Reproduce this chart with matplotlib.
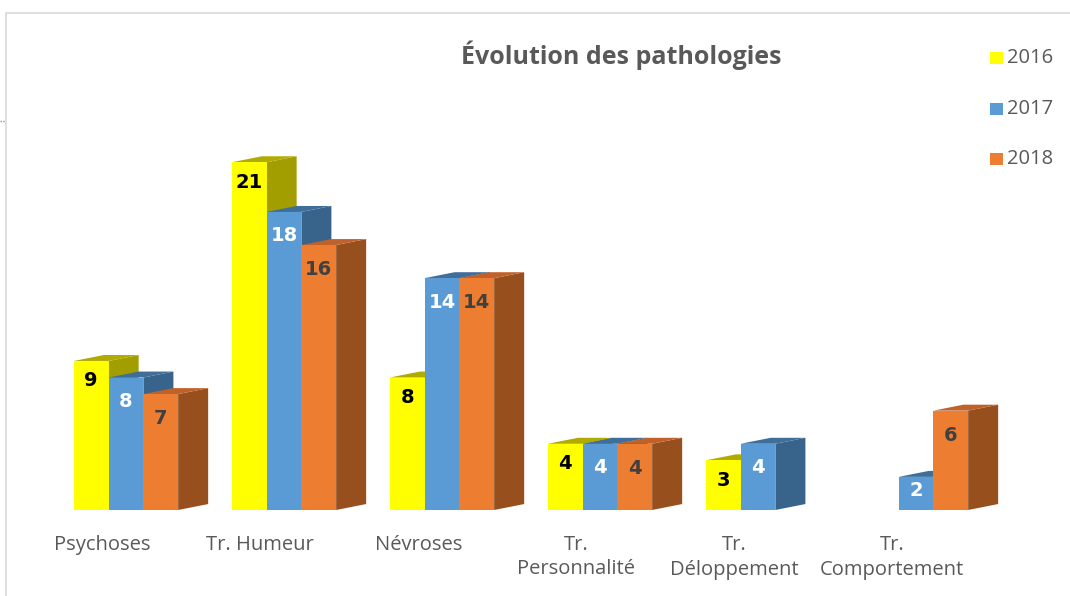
"""Évolution des pathologies - 3D-style grouped bar chart."""

import matplotlib
matplotlib.use("Agg")
import matplotlib.pyplot as plt
import numpy as np
from matplotlib.lines import Line2D
from matplotlib.patches import Polygon, Rectangle

categories = ["Psychoses", "Tr. Humeur", "Névroses", "Tr.\nPersonnalité",
              "Tr.\nDéloppement", "Tr.\nComportement"]
years = ["2016", "2017", "2018"]
v2016 = [9, 21, 8, 4, 3, np.nan]
v2017 = [8, 18, 14, 4, 4, 2]
v2018 = [7, 16, 14, 4, np.nan, 6]

front_colors = ["#FFFF00", "#5B9BD5", "#ED7D31"]
top_colors = ["#B0AB00", "#3F6E99", "#C0612A"]
side_colors = ["#A39E00", "#38648C", "#974F1E"]
label_colors = ["black", "white", "#404040"]
# how far below the bar top each series puts its value label (value units)
label_drop = [1.2, 1.45, 1.5]

BAR_W = 0.22
DEPTH_X = 0.19
DEPTH_Y = 0.36

fig = plt.figure(figsize=(10.7, 5.96), dpi=100)
ax = fig.add_axes([31.2 / 1070, 86 / 596, 979.6 / 1070, 414 / 596])
ax.set_xlim(-0.6, 5.6)
ax.set_ylim(0, 25)

x = np.arange(len(categories))
series = [v2016, v2017, v2018]

for i in x:
    # draw left to right so the next bar hides the previous side face
    for k, vals in enumerate(series):
        v = vals[i]
        if np.isnan(v):
            continue
        x0 = i + (k - 1.5) * BAR_W
        x1 = x0 + BAR_W
        side = Polygon([(x1, 0), (x1 + DEPTH_X, DEPTH_Y), (x1 + DEPTH_X, v + DEPTH_Y), (x1, v)],
                       closed=True, facecolor=side_colors[k], edgecolor="none")
        top = Polygon([(x0, v), (x0 + DEPTH_X, v + DEPTH_Y), (x1 + DEPTH_X, v + DEPTH_Y), (x1, v)],
                      closed=True, facecolor=top_colors[k], edgecolor="none")
        front = Rectangle((x0, 0), BAR_W, v, facecolor=front_colors[k], edgecolor="none")
        ax.add_patch(side)
        ax.add_patch(top)
        ax.add_patch(front)
        label_y = v - min(label_drop[k], 0.4 * v)
        ax.text(x0 + BAR_W / 2, label_y, f"{int(v)}", ha="center", va="center",
                fontsize=14, fontweight="bold", color=label_colors[k], family="DejaVu Sans")

ax.set_xticks(x - 0.15)
ax.set_xticklabels(categories, fontsize=14.5, color="#595959", family="Open Sans",
                   linespacing=1.3)
ax.tick_params(axis="x", length=0, pad=18)
ax.set_yticks([])
for s in ax.spines.values():
    s.set_visible(False)

fig.text(621 / 1070, 1 - 55 / 596, "Évolution des pathologies", ha="center", va="center",
         fontsize=18, fontweight="bold", color="#595959", family="Open Sans")

# legend
for k, yr in enumerate(years):
    ypx = 58 + 50.5 * k
    fig.patches.append(Rectangle((990 / 1070, 1 - (ypx + 6) / 596), 13 / 1070, 12 / 596,
                                 transform=fig.transFigure, facecolor=front_colors[k],
                                 edgecolor="none"))
    fig.text(1007 / 1070, 1 - ypx / 596, yr, ha="left", va="center", fontsize=14.5,
             color="#595959", family="Open Sans")

# chart border
fig.patches.append(Rectangle((6 / 1070, -0.1), 1.2, 1 - 13 / 596 + 0.1, transform=fig.transFigure,
                             facecolor="none", edgecolor="#D9D9D9", linewidth=1.2))
fig.lines.append(Line2D([0, 5 / 1070], [1 - 121 / 596] * 2, transform=fig.transFigure,
                        color="#D070B0", linestyle=(0, (1, 1)), linewidth=1))

fig.savefig("out.png", dpi=100)
